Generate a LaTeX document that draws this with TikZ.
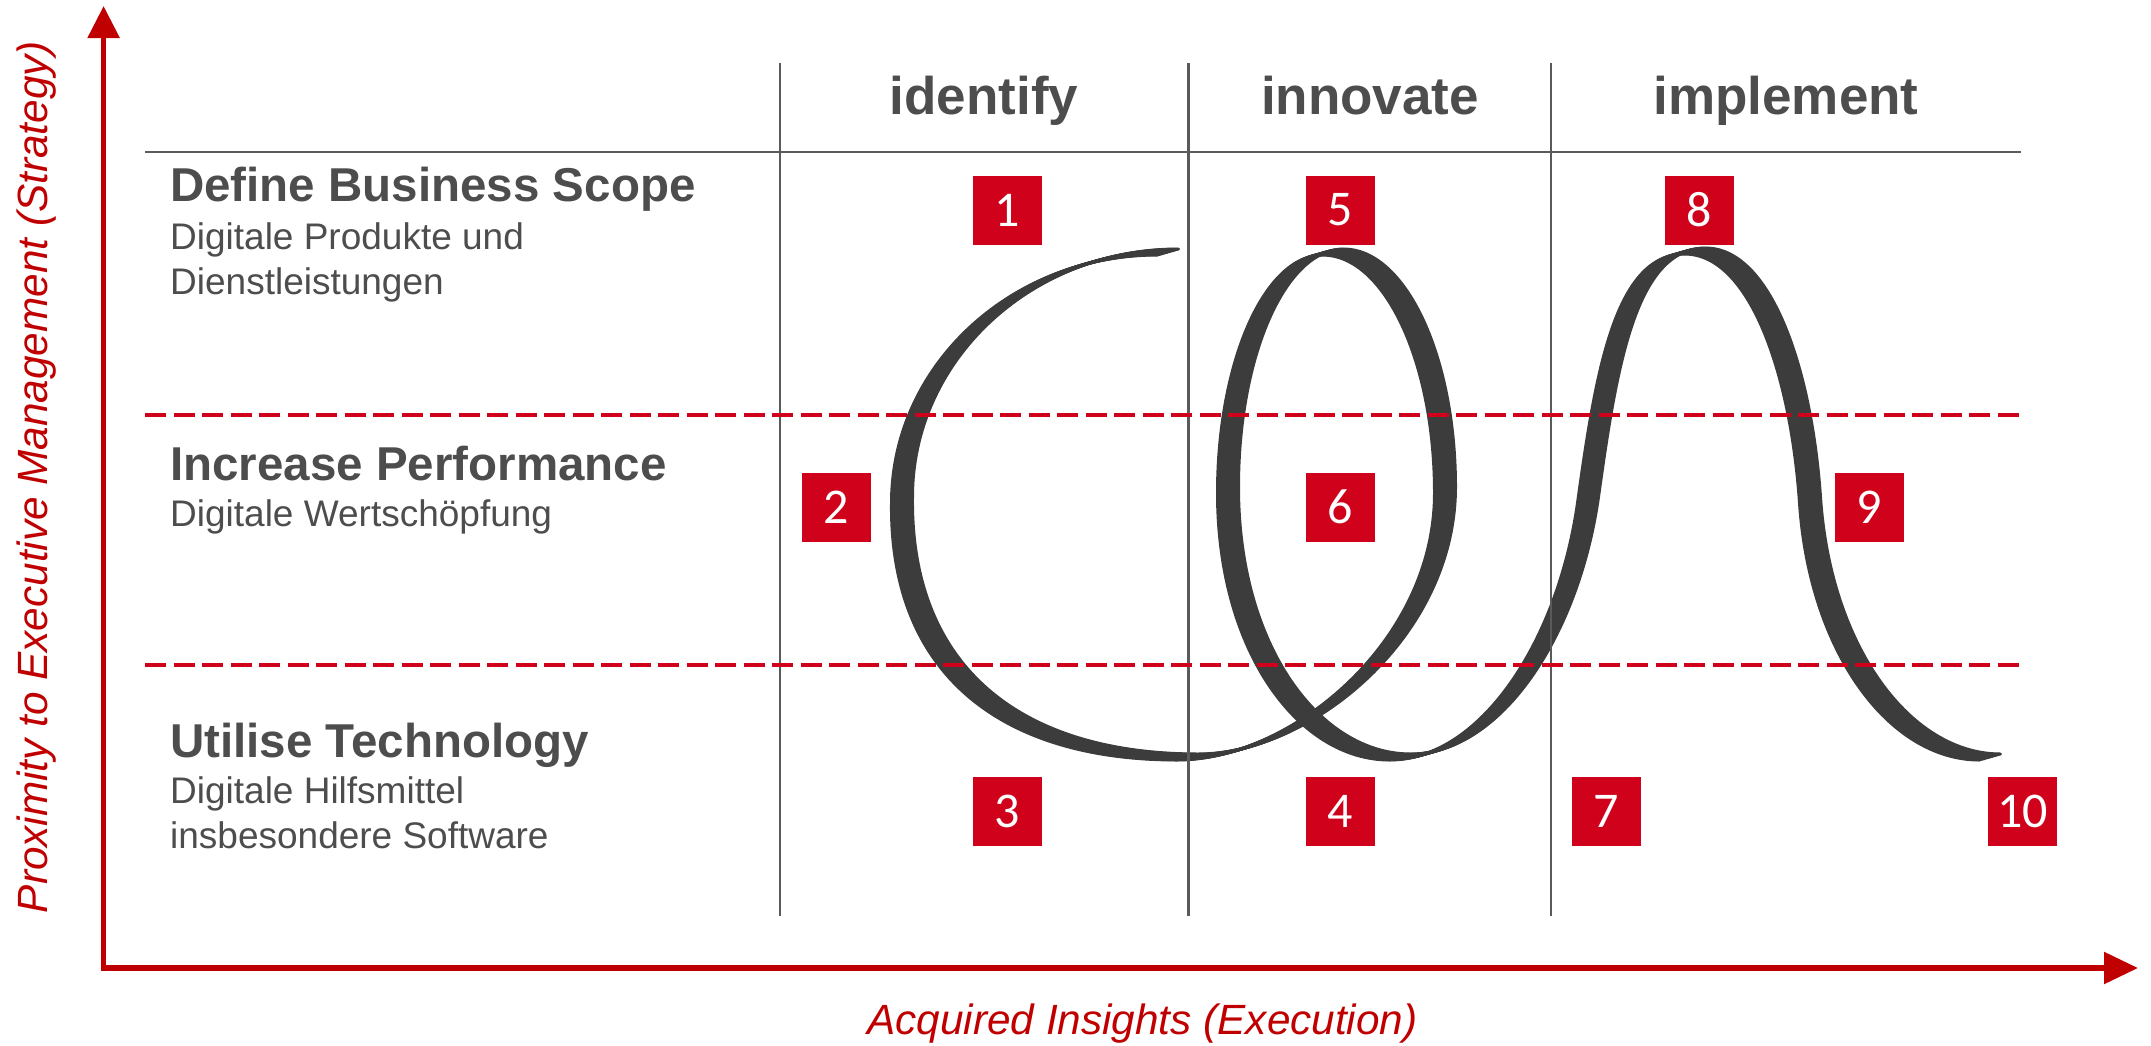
\documentclass[tikz,border=0pt]{standalone}
\usepackage{fontspec}
\setmainfont{Liberation Sans}
\newfontfamily\numfont{Carlito}
\usetikzlibrary{arrows.meta}
\definecolor{axisred}{HTML}{C00000}
\definecolor{boxred}{HTML}{D0021B}
\definecolor{dashred}{HTML}{D0021B}
\definecolor{gridgrey}{HTML}{5A5A5A}
\definecolor{textgrey}{HTML}{4D4D4D}
\definecolor{ribbongrey}{HTML}{3C3C3C}
\tikzset{
  headtext/.style={inner sep=0pt, anchor=base, text=textgrey, font=\bfseries\fontsize{53bp}{60bp}\selectfont},
  titletext/.style={inner sep=0pt, anchor=base west, text=textgrey, font=\bfseries\fontsize{47.5bp}{54bp}\selectfont},
  subtext/.style={inner sep=0pt, anchor=base west, text=textgrey, font=\fontsize{37bp}{44bp}\selectfont},
  axislabel/.style={inner sep=0pt, anchor=base, text=axisred, font=\itshape\fontsize{42.3bp}{48bp}\selectfont},
  numbox/.style={fill=boxred, draw=none, minimum width=69bp, minimum height=69bp, inner sep=0pt, text=white, font=\numfont\fontsize{50bp}{50bp}\selectfont},
  gridline/.style={draw=gridgrey, line width=2.3bp},
  rowline/.style={draw=dashred, line width=3.5bp, dash pattern=on 21bp off 7.5bp},
  ribbon/.style={draw=ribbongrey, line width=3bp, line cap=round, line join=round},
  axis/.style={draw=axisred, line width=5.5bp, line join=miter}
}
\begin{document}
\begin{tikzpicture}[x=1bp, y=-1bp]
\useasboundingbox (0,0) rectangle (2151,1046);

% ribbon (calligraphic stroke simulated with a slanted nib)
\foreach \k in {0,1,...,16} {
  \pgfmathsetmacro{\dx}{-10.5+21*\k/16}
  \pgfmathsetmacro{\dy}{3-6*\k/16}
  \draw[ribbon, shift={(\dx,\dy)}]
    (1168,252) .. controls (1021,252) and (902,363) .. (902,500)
    .. controls (900,670) and (1010,757) .. (1188,757)
    .. controls (1300,757) and (1445,640) .. (1445,490)
    .. controls (1445,359) and (1395,252) .. (1333,252)
    .. controls (1275,252) and (1228,359) .. (1228,490)
    .. controls (1228,650) and (1310,757) .. (1400,757)
    .. controls (1490,757) and (1568,640) .. (1588,500)
    .. controls (1606,370) and (1625,251) .. (1695,251)
    .. controls (1760,251) and (1801,370) .. (1810,500)
    .. controls (1820,650) and (1900,757) .. (1990,757);
}

% grid
\draw[gridline] (145,152) -- (2021,152);
\draw[gridline] (780,63) -- (780,916);
\draw[gridline] (1188.5,63) -- (1188.5,916);
\draw[gridline] (1551,63) -- (1551,916);
\draw[rowline] (145,415) -- (2021,415);
\draw[rowline] (145,665) -- (2021,665);

% axes
\coordinate (origin) at (103.6,968);
\coordinate (ytip) at (103.6,6);
\coordinate (xtip) at (2138,968);
\draw[axis, {Triangle[length=32bp,width=31bp]}-{Triangle[length=34bp,width=31bp]}] (ytip) -- (origin) -- (xtip);

\node[axislabel, rotate=90] (ylab) at (47,477) {Proximity to Executive Management (Strategy)};
\node[axislabel] (xlab) at (1142.5,1034) {Acquired Insights (Execution)};

% headers
\node[headtext] (hid) at (984,114) {identify};
\node[headtext] (hin) at (1370,114) {innovate};
\node[headtext] (him) at (1786,114) {implement};

% row titles
\node[titletext] (t1) at (170,201.7) {Define Business Scope};
\node[subtext] (s1a) at (170,249.3) {Digitale Produkte und};
\node[subtext] (s1b) at (170,294) {Dienstleistungen};
\node[titletext] (t2) at (170,480.7) {Increase Performance};
\node[subtext] (s2a) at (170,526.7) {Digitale Wertschöpfung};
\node[titletext] (t3) at (170,757.3) {Utilise Technology};
\node[subtext] (s3a) at (170,803.3) {Digitale Hilfsmittel};
\node[subtext] (s3b) at (170,848.3) {insbesondere Software};

% numbered boxes
\node[numbox] (b1) at (1007,210) {1};
\node[numbox] (b5) at (1340,210) {5};
\node[numbox] (b8) at (1699.5,210) {8};
\node[numbox] (b2) at (836.5,507) {2};
\node[numbox] (b6) at (1340,507) {6};
\node[numbox] (b9) at (1869,507) {9};
\node[numbox] (b3) at (1007,811) {3};
\node[numbox] (b4) at (1340,811) {4};
\node[numbox] (b7) at (1606.5,811) {7};
\node[numbox] (b10) at (2022.5,811) {10};
\end{tikzpicture}
\end{document}
